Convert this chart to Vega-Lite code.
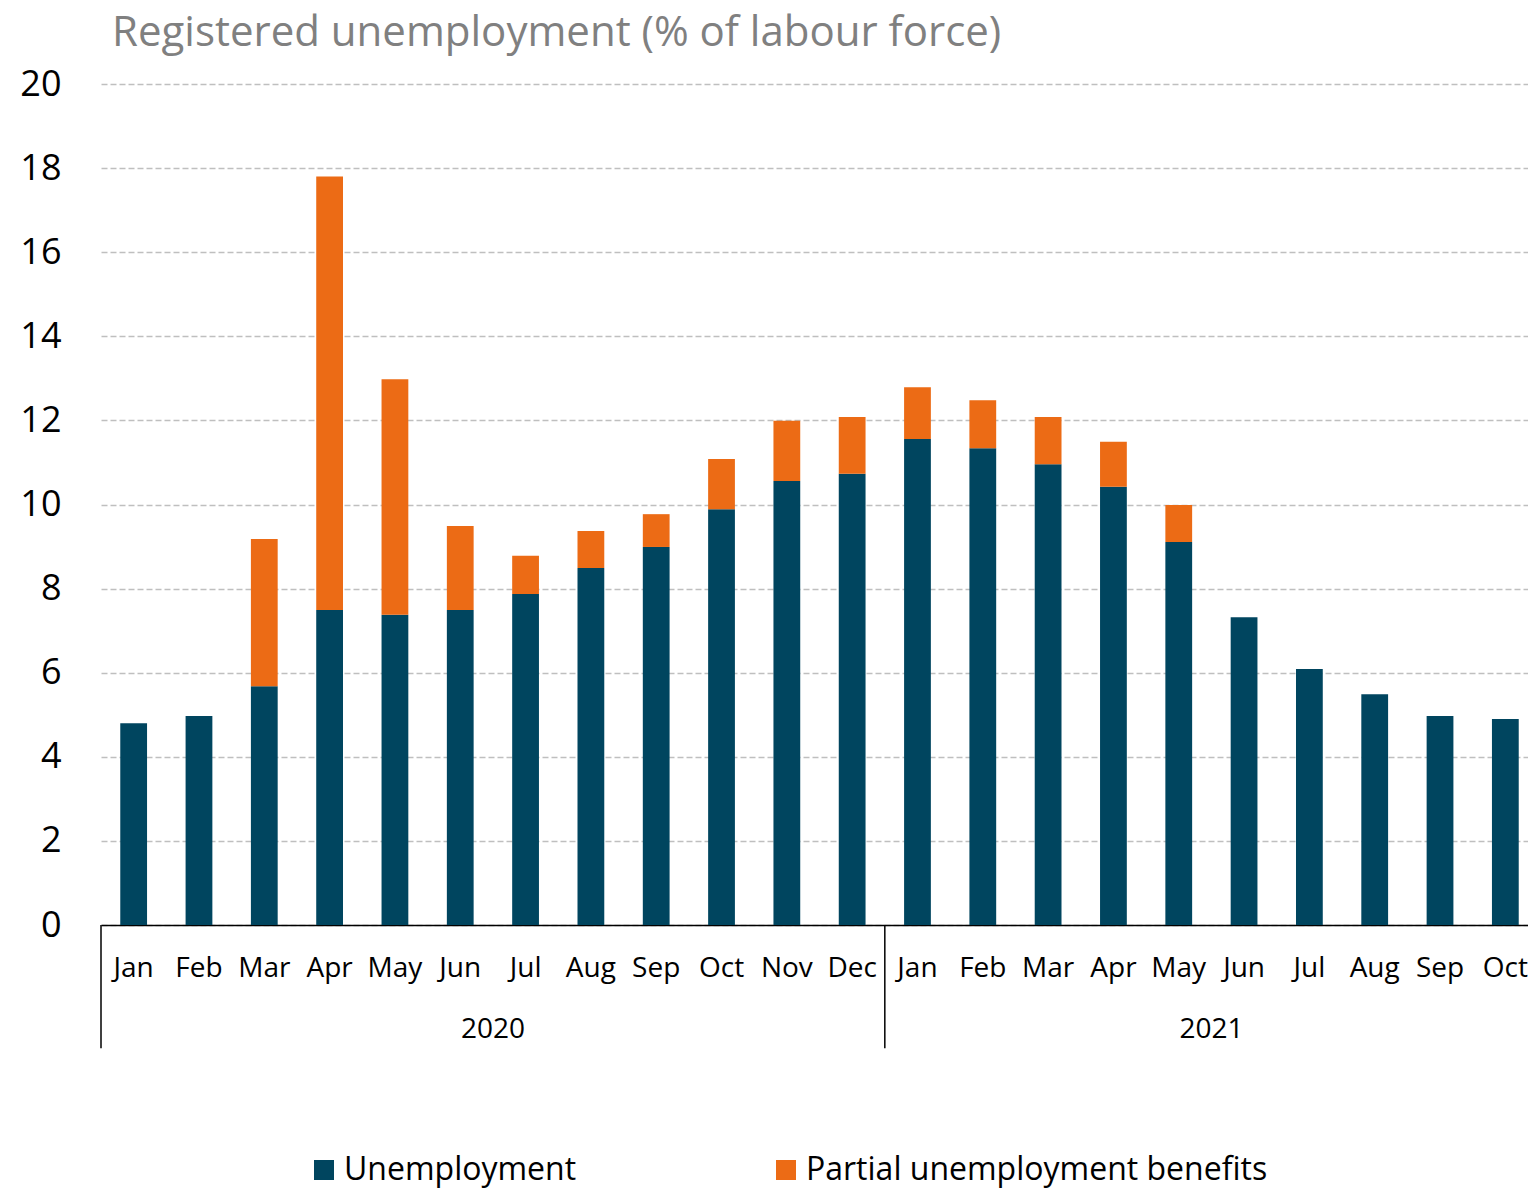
{
  "$schema": "https://vega.github.io/schema/vega-lite/v6.json",
  "width": 1427,
  "height": 841,
  "autosize": {"type": "none"},
  "padding": {"left": 101, "top": 84, "right": 0, "bottom": 263},
  "title": {
    "text": "Registered unemployment (% of labour force)",
    "anchor": "start",
    "frame": "group",
    "dx": 11,
    "dy": 30,
    "offset": 8,
    "baseline": "alphabetic",
    "font": "Open Sans",
    "fontSize": 42,
    "fontWeight": "normal",
    "color": "#808080"
  },
  "config": {"view": {"stroke": null}, "font": "Open Sans"},
  "layer": [
    {
      "data": {
        "values": [
          {"key": "2020 Jan", "series": "Unemployment", "value": 4.8},
          {"key": "2020 Feb", "series": "Unemployment", "value": 4.97},
          {"key": "2020 Mar", "series": "Unemployment", "value": 5.68},
          {"key": "2020 Mar", "series": "Partial unemployment benefits", "value": 3.5},
          {"key": "2020 Apr", "series": "Unemployment", "value": 7.49},
          {"key": "2020 Apr", "series": "Partial unemployment benefits", "value": 10.31},
          {"key": "2020 May", "series": "Unemployment", "value": 7.38},
          {"key": "2020 May", "series": "Partial unemployment benefits", "value": 5.6},
          {"key": "2020 Jun", "series": "Unemployment", "value": 7.49},
          {"key": "2020 Jun", "series": "Partial unemployment benefits", "value": 2.0},
          {"key": "2020 Jul", "series": "Unemployment", "value": 7.87},
          {"key": "2020 Jul", "series": "Partial unemployment benefits", "value": 0.91},
          {"key": "2020 Aug", "series": "Unemployment", "value": 8.49},
          {"key": "2020 Aug", "series": "Partial unemployment benefits", "value": 0.88},
          {"key": "2020 Sep", "series": "Unemployment", "value": 8.99},
          {"key": "2020 Sep", "series": "Partial unemployment benefits", "value": 0.78},
          {"key": "2020 Oct", "series": "Unemployment", "value": 9.89},
          {"key": "2020 Oct", "series": "Partial unemployment benefits", "value": 1.19},
          {"key": "2020 Nov", "series": "Unemployment", "value": 10.56},
          {"key": "2020 Nov", "series": "Partial unemployment benefits", "value": 1.43},
          {"key": "2020 Dec", "series": "Unemployment", "value": 10.73},
          {"key": "2020 Dec", "series": "Partial unemployment benefits", "value": 1.35},
          {"key": "2021 Jan", "series": "Unemployment", "value": 11.56},
          {"key": "2021 Jan", "series": "Partial unemployment benefits", "value": 1.23},
          {"key": "2021 Feb", "series": "Unemployment", "value": 11.34},
          {"key": "2021 Feb", "series": "Partial unemployment benefits", "value": 1.14},
          {"key": "2021 Mar", "series": "Unemployment", "value": 10.96},
          {"key": "2021 Mar", "series": "Partial unemployment benefits", "value": 1.12},
          {"key": "2021 Apr", "series": "Unemployment", "value": 10.42},
          {"key": "2021 Apr", "series": "Partial unemployment benefits", "value": 1.07},
          {"key": "2021 May", "series": "Unemployment", "value": 9.11},
          {"key": "2021 May", "series": "Partial unemployment benefits", "value": 0.88},
          {"key": "2021 Jun", "series": "Unemployment", "value": 7.32},
          {"key": "2021 Jul", "series": "Unemployment", "value": 6.09},
          {"key": "2021 Aug", "series": "Unemployment", "value": 5.49},
          {"key": "2021 Sep", "series": "Unemployment", "value": 4.97},
          {"key": "2021 Oct", "series": "Unemployment", "value": 4.9}
        ]
      },
      "mark": {"type": "bar"},
      "encoding": {
        "x": {
          "field": "key",
          "type": "ordinal",
          "sort": null,
          "scale": {
            "domain": ["2020 Jan","2020 Feb","2020 Mar","2020 Apr","2020 May","2020 Jun","2020 Jul","2020 Aug","2020 Sep","2020 Oct","2020 Nov","2020 Dec","2021 Jan","2021 Feb","2021 Mar","2021 Apr","2021 May","2021 Jun","2021 Jul","2021 Aug","2021 Sep","2021 Oct"],
            "range": [0, 1437],
            "paddingInner": 0.59,
            "paddingOuter": 0.295
          },
          "axis": {
            "title": null,
            "labelExpr": "slice(datum.value, 5)",
            "labelFont": "Open Sans",
            "labelFontSize": 28,
            "labelColor": "#000000",
            "labelPadding": 29,
            "labelAngle": 0,
            "labelOverlap": false,
            "ticks": false,
            "tickSize": 0,
            "domainColor": "#000000",
            "domainWidth": 1.5,
            "grid": false
          }
        },
        "y": {
          "field": "value",
          "type": "quantitative",
          "stack": "zero",
          "scale": {"domain": [0, 20], "nice": false},
          "axis": {
            "title": null,
            "values": [0, 2, 4, 6, 8, 10, 12, 14, 16, 18, 20],
            "labelFont": "Open Sans",
            "labelFontSize": 36,
            "labelColor": "#000000",
            "labelPadding": 40,
            "ticks": false,
            "tickSize": 0,
            "domain": false,
            "grid": true,
            "gridColor": "#BFBFBF",
            "gridDash": [6, 3],
            "gridWidth": 1.3
          }
        },
        "color": {
          "field": "series",
          "type": "nominal",
          "sort": ["Unemployment", "Partial unemployment benefits"],
          "scale": {
            "domain": ["Unemployment", "Partial unemployment benefits"],
            "range": ["#00455F", "#EC6B15"]
          },
          "legend": {
            "title": null,
            "orient": "none",
            "legendX": 207,
            "legendY": 1070,
            "direction": "horizontal",
            "columns": 2,
            "symbolType": "square",
            "symbolSize": 400,
            "symbolStrokeWidth": 0,
            "labelFont": "Open Sans",
            "labelFontSize": 32,
            "labelColor": "#000000",
            "labelLimit": 0,
            "labelOffset": 4,
            "columnPadding": 193,
            "padding": 0
          }
        }
      }
    },
    {
      "data": {"values": [{"key": "2020 Jan"}]},
      "mark": {"type": "rule", "color": "#000000", "strokeWidth": 1.5},
      "encoding": {
        "x": {"field": "key", "type": "ordinal", "bandPosition": -0.7195},
        "y": {"datum": 0, "type": "quantitative"},
        "y2": {"datum": -2.93}
      }
    },
    {
      "data": {"values": [{"key": "2020 Dec"}]},
      "mark": {"type": "rule", "color": "#000000", "strokeWidth": 1.5},
      "encoding": {
        "x": {"field": "key", "type": "ordinal", "bandPosition": 1.7195},
        "y": {"datum": 0, "type": "quantitative"},
        "y2": {"datum": -2.93}
      }
    },
    {
      "data": {"values": [{"key": "2020 Jun", "year": "2020"}, {"key": "2021 May", "year": "2021"}]},
      "mark": {"type": "text", "font": "Open Sans", "fontSize": 28, "color": "#000000", "align": "center", "baseline": "alphabetic"},
      "encoding": {
        "x": {"field": "key", "type": "ordinal", "bandPosition": 1.7195},
        "y": {"datum": -2.69, "type": "quantitative"},
        "text": {"field": "year"}
      }
    }
  ]
}
